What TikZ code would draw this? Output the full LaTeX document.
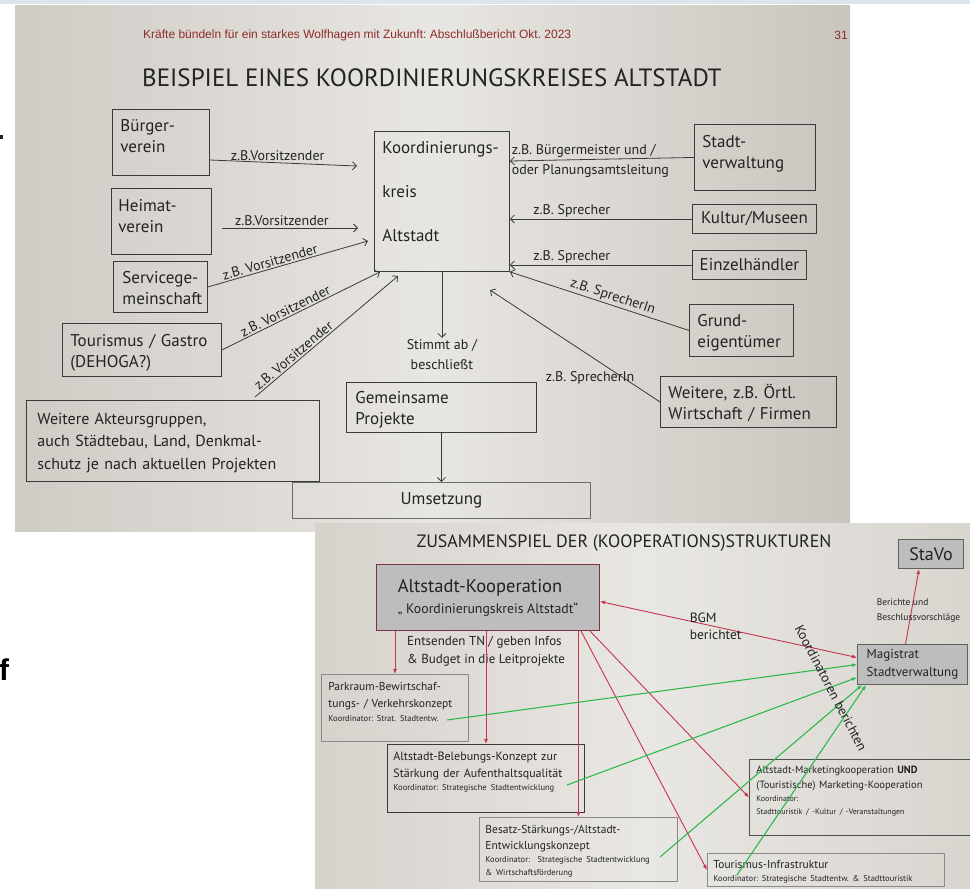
\documentclass[tikz,border=0pt]{standalone}
\usepackage{fontspec}
\setmainfont{PT Sans}
\newfontfamily\arialfont{Liberation Sans}
\usetikzlibrary{arrows.meta}

\definecolor{slideleft}{HTML}{CFCBC5}
\definecolor{slidemid}{HTML}{E8E6E2}
\definecolor{slideright}{HTML}{C9C5BE}
\definecolor{slidetwoleft}{HTML}{D6D2CC}
\definecolor{slidetwomid}{HTML}{E9E7E3}
\definecolor{slidetworight}{HTML}{D8D5CF}
\definecolor{topband}{HTML}{DCE4EC}
\definecolor{headred}{HTML}{8E2B2B}
\definecolor{ink}{HTML}{232323}
\definecolor{boxline}{HTML}{3A3A3A}
\definecolor{paleline}{HTML}{8A8A8A}
\definecolor{redline}{HTML}{C7344F}
\definecolor{greenline}{HTML}{2FB84E}
\definecolor{boxfill}{HTML}{BEBDBD}
\definecolor{akline}{HTML}{7A3344}

\hyphenpenalty=10000
\exhyphenpenalty=10000
\frenchspacing

% small print for the coordinator lines, same line skip as the box text
\newcommand{\klein}[1][17]{\fontsize{8.5}{#1}\selectfont}

\tikzset{
  box/.style={draw=boxline, line width=0.9pt, anchor=north west, align=left,
    inner ysep=5pt, text=ink},
  big/.style={font=\fontsize{17}{21.5}\selectfont},
  lbl/.style={font=\fontsize{14}{20}\selectfont, text=ink, inner sep=1.5pt},
  arr/.style={draw=boxline, line width=0.8pt,
    -{Straight Barb[length=4pt,width=8pt]}},
  pbox/.style={draw=paleline, line width=0.9pt, anchor=north west, align=left,
    inner ysep=4pt, text=ink, font=\fontsize{11.5}{17}\selectfont},
  gbox/.style={draw=boxline!80, fill=boxfill, line width=1pt, anchor=north west,
    inner sep=0pt, text=ink},
  redarr/.style={draw=redline, line width=0.9pt,
    >={Latex[length=5pt,width=4pt]}, ->},
  greenarr/.style={draw=greenline, line width=1.1pt,
    >={Latex[length=5pt,width=4pt]}, ->}
}

\begin{document}
\begin{tikzpicture}[x=1pt, y=-1pt]

\useasboundingbox (0,0) rectangle (970,889);
\fill[white] (0,0) rectangle (970,889);
\fill[topband] (0,0) rectangle (970,4);
\shade[left color=slideleft, right color=slideright, middle color=slidemid]
  (15,5) rectangle (850,531);
\fill[ink] (0,135) rectangle (3,139);
\node[anchor=base west, inner sep=0pt, text=black,
  font=\arialfont\bfseries\fontsize{30}{30}\selectfont] (fchar) at (-1,680) {f};

\node[anchor=west, inner sep=0pt, text=headred,
  font=\arialfont\fontsize{12}{13}\selectfont] (head) at (143,35)
  {Kräfte bündeln für ein starkes Wolfhagen mit Zukunft: Abschlußbericht Okt. 2023};
\node[anchor=east, inner sep=0pt, text=headred,
  font=\arialfont\fontsize{12}{13}\selectfont] (pagenr) at (848,35) {31};
\node[anchor=west, inner sep=0pt, text=ink, font=\fontsize{25}{27}\selectfont]
  (title) at (142,78) {BEISPIEL EINES KOORDINIERUNGSKREISES ALTSTADT};

\node[box, big, text width=81pt, inner xsep=8pt, text height=17pt, text depth=39pt]
  (bv) at (112,109) {Bürger-\\verein};
\node[box, big, text width=86pt, inner xsep=7pt, text height=18pt, text depth=38pt]
  (hv) at (111,188) {Heimat-\\verein};
\node[box, big, text width=76pt, inner xsep=9pt, text height=17pt, text depth=24pt]
  (sg) at (113,261) {Servicege-\\meinschaft};
\node[box, big, text width=143pt, inner xsep=8pt, text height=18pt, text depth=25pt]
  (tg) at (62,323) {Tourismus / Gastro\\(DEHOGA?)};
\node[box, font=\fontsize{16}{22.5}\selectfont, text width=271pt, inner xsep=11pt,
  text height=19pt, text depth=52pt]
  (wa) at (26,400) {Weitere Akteursgruppen,\\auch Städtebau, Land, Denkmal-\\schutz je nach aktuellen Projekten};

\node[box, big, text width=119pt, inner xsep=8pt, text height=17pt, text depth=113pt]
  (kk) at (374,131) {Koordinierungs-\\[22.5pt]kreis\\[22.5pt]Altstadt};
\node[box, big, text width=172pt, inner xsep=9pt, text height=16pt, text depth=24pt]
  (gp) at (346,382) {Gemeinsame\\Projekte};
\node[box, big, draw=boxline!75, inner sep=0pt, minimum width=298pt, minimum height=36pt]
  (um) at (292,482) {Umsetzung};

\node[box, big, text width=105pt, inner xsep=8pt, text height=18pt, text depth=38pt]
  (sv) at (694,124) {Stadt-\\verwaltung};
\node[box, big, inner sep=0pt, minimum width=124pt, minimum height=29pt]
  (km) at (692,204) {Kultur/Museen};
\node[box, big, inner sep=0pt, minimum width=114pt, minimum height=29pt]
  (eh) at (692,250) {Einzelhändler};
\node[box, big, text width=88pt, inner xsep=8pt, text height=17pt, text depth=25pt]
  (ge) at (689,304) {Grund-\\eigentümer};
\node[box, big, text width=160pt, inner xsep=8pt, text height=17pt, text depth=24pt]
  (wf) at (660,376) {Weitere, z.B. Örtl.\\Wirtschaft / Firmen};

\coordinate (kk-w1) at (357,166);
\coordinate (hv-out) at (222,228);
\coordinate (kk-w2) at (358,228);
\coordinate (kk-w3) at (368,241);
\coordinate (wa-out) at (255,397);
\coordinate (kk-w5) at (398,276);
\coordinate (kk-e5) at (490,290);

\draw[arr] (bv.east |- 0,160) -- node[lbl, above, pos=.46] {z.B.Vorsitzender} (kk-w1);
\draw[arr] (hv-out) -- node[lbl, above, pos=.44] {z.B.Vorsitzender} (kk-w2);
\draw[arr] (sg.east) -- node[lbl, sloped, above, pos=.4] {z.B. Vorsitzender} (kk-w3);
\draw[arr] (tg.east) -- node[lbl, sloped, above, pos=.42] {z.B. Vorsitzender}
  ([xshift=6pt]kk.south west);
\draw[arr] (wa-out) -- node[lbl, sloped, above, pos=.3] {z.B. Vorsitzender} (kk-w5);

\draw[arr] (sv.west) -- (kk.east |- 0,161)
  node[lbl, pos=1, anchor=west, align=left] {z.B. Bürgermeister und /\\oder Planungsamtsleitung};
\draw[arr] (km.west) -- node[lbl, above, pos=.66] {z.B. Sprecher} (kk.east |- km.west);
\draw[arr] (eh.west) -- node[lbl, above, pos=.66] {z.B. Sprecher} (kk.east |- eh.west);
\draw[arr] (ge.west) -- node[lbl, sloped, above, pos=.44] {z.B. SprecherIn} (kk.south east);
\draw[arr] (wf.west) -- node[lbl, pos=.14, anchor=south east] {z.B. SprecherIn} (kk-e5);

\draw[arr] (kk.south) -- ++(0,66)
  node[lbl, anchor=north, align=center] {Stimmt ab /\\beschließt};
\draw[arr] (gp) -- (um);

\shade[left color=slidetwoleft, right color=slidetworight, middle color=slidetwomid]
  (315,523) rectangle (975,889);

\node[text=ink, font=\fontsize{17.9}{20}\selectfont] (title2) at (624,543)
  {ZUSAMMENSPIEL DER (KOOPERATIONS)STRUKTUREN};

\node[gbox, draw=akline, align=left, minimum width=223pt, minimum height=66pt,
  font=\fontsize{18.5}{21}\selectfont] (ak) at (376,564)
  {Altstadt-Kooperation\\{\fontsize{13.8}{15}\selectfont „ Koordinierungskreis Altstadt“}};
\node[gbox, minimum width=65pt, minimum height=29pt, font=\fontsize{18}{20}\selectfont]
  (st) at (898,539) {StaVo};
\node[gbox, align=left, minimum width=110pt, minimum height=40pt,
  font=\fontsize{13}{18}\selectfont] (mg) at (857,644) {Magistrat\\Stadtverwaltung};

\node[anchor=north west, align=left, inner sep=0pt, text=ink,
  font=\fontsize{13}{18}\selectfont] (entsenden) at (407,636)
  {Entsenden TN / geben Infos\\\& Budget in die Leitprojekte};

\node[pbox, text width=133pt, inner xsep=7pt, text height=12pt, text depth=47pt]
  (pk) at (321,674)
  {Parkraum-Bewirtschaf-\\tungs- / Verkehrskonzept\\[-3pt]{\klein Koordinator: Strat. Stadtentw.}};
\node[pbox, draw=boxline, text width=185pt, inner xsep=6pt, text height=12pt, text depth=48pt,
  font=\fontsize{12}{17}\selectfont] (bl) at (387,744)
  {Altstadt-Belebungs-Konzept zur\\Stärkung der Aufenthaltsqualität\\[-4pt]{\klein Koordinator: Strategische Stadtentwicklung}};
\node[pbox, text width=186pt, inner xsep=6pt, text height=12pt, text depth=44pt,
  font=\fontsize{11.5}{16.5}\selectfont] (bs) at (479,817)
  {Besatz-Stärkungs-/Altstadt-\\Entwicklungskonzept\\[-3.5pt]{\klein[16.5]Koordinator:\ \ Strategische Stadtentwicklung\\[-3.5pt]\& Wirtschaftsförderung}};
\node[pbox, draw=boxline!90, text width=216pt, inner xsep=7pt, text height=10.5pt, text depth=57.5pt,
  font=\fontsize{10.5}{15}\selectfont] (mk) at (749,759)
  {Altstadt-Marketingkooperation \textbf{UND}\\(Touristische) Marketing-Kooperation\\[-2.5pt]{\fontsize{8}{15}\selectfont Koordinator:\\[-2pt]Stadttouristik / -Kultur / -Veranstaltungen}};
\node[pbox, text width=225pt, inner xsep=6pt, inner ysep=3pt, text height=12pt, text depth=15pt,
  font=\fontsize{11.5}{15}\selectfont] (ti) at (707,853)
  {Tourismus-Infrastruktur\\[-2pt]{\klein[15]Koordinator: Strategische Stadtentw. \& Stadttouristik}};

\foreach \b in {pk,bl,bs}
  \draw[redarr] (\b.north |- ak.south) -- (\b.north);
\draw[redarr] ([xshift=-19pt]ak.south east) -- (ti.west);
\draw[redarr] ([xshift=-10pt]ak.south east) -- (mk.west);
\draw[redarr, <->] ([yshift=-4pt]ak.east) --
  node[pos=.45, align=left, text=ink, font=\fontsize{13.5}{17}\selectfont] {BGM\\berichtet}
  ([yshift=7pt]mg.west);
\draw[redarr] ([xshift=-7pt]mg.north) --
  node[pos=.45, xshift=7pt, align=left, text=ink, font=\fontsize{9.5}{15}\selectfont]
  {Berichte und\\Beschlussvorschläge} ([xshift=-12pt]st.south);

\coordinate (pk-k) at (447,720);
\coordinate (bl-k) at (567,785);
\coordinate (bs-k) at (660,857);
\coordinate (ti-k) at (737,875);
\coordinate (mg-t1) at (mg.west);
\coordinate (mg-t2) at ([yshift=-13pt]mg.west);
\coordinate (mg-t3) at ([xshift=5pt]mg.south west);
\coordinate (mg-t4) at ([xshift=9pt]mg.south west);

\foreach \src/\dst in {pk-k/mg-t1, bl-k/mg-t2, bs-k/mg-t3, ti-k/mg-t4}
  \draw[greenarr] (\src) -- (\dst);

\node[rotate=-62.4, text=ink, font=\fontsize{13.5}{15}\selectfont] (koord) at (831,688)
  {Koordinatoren berichten};

\end{tikzpicture}
\end{document}
